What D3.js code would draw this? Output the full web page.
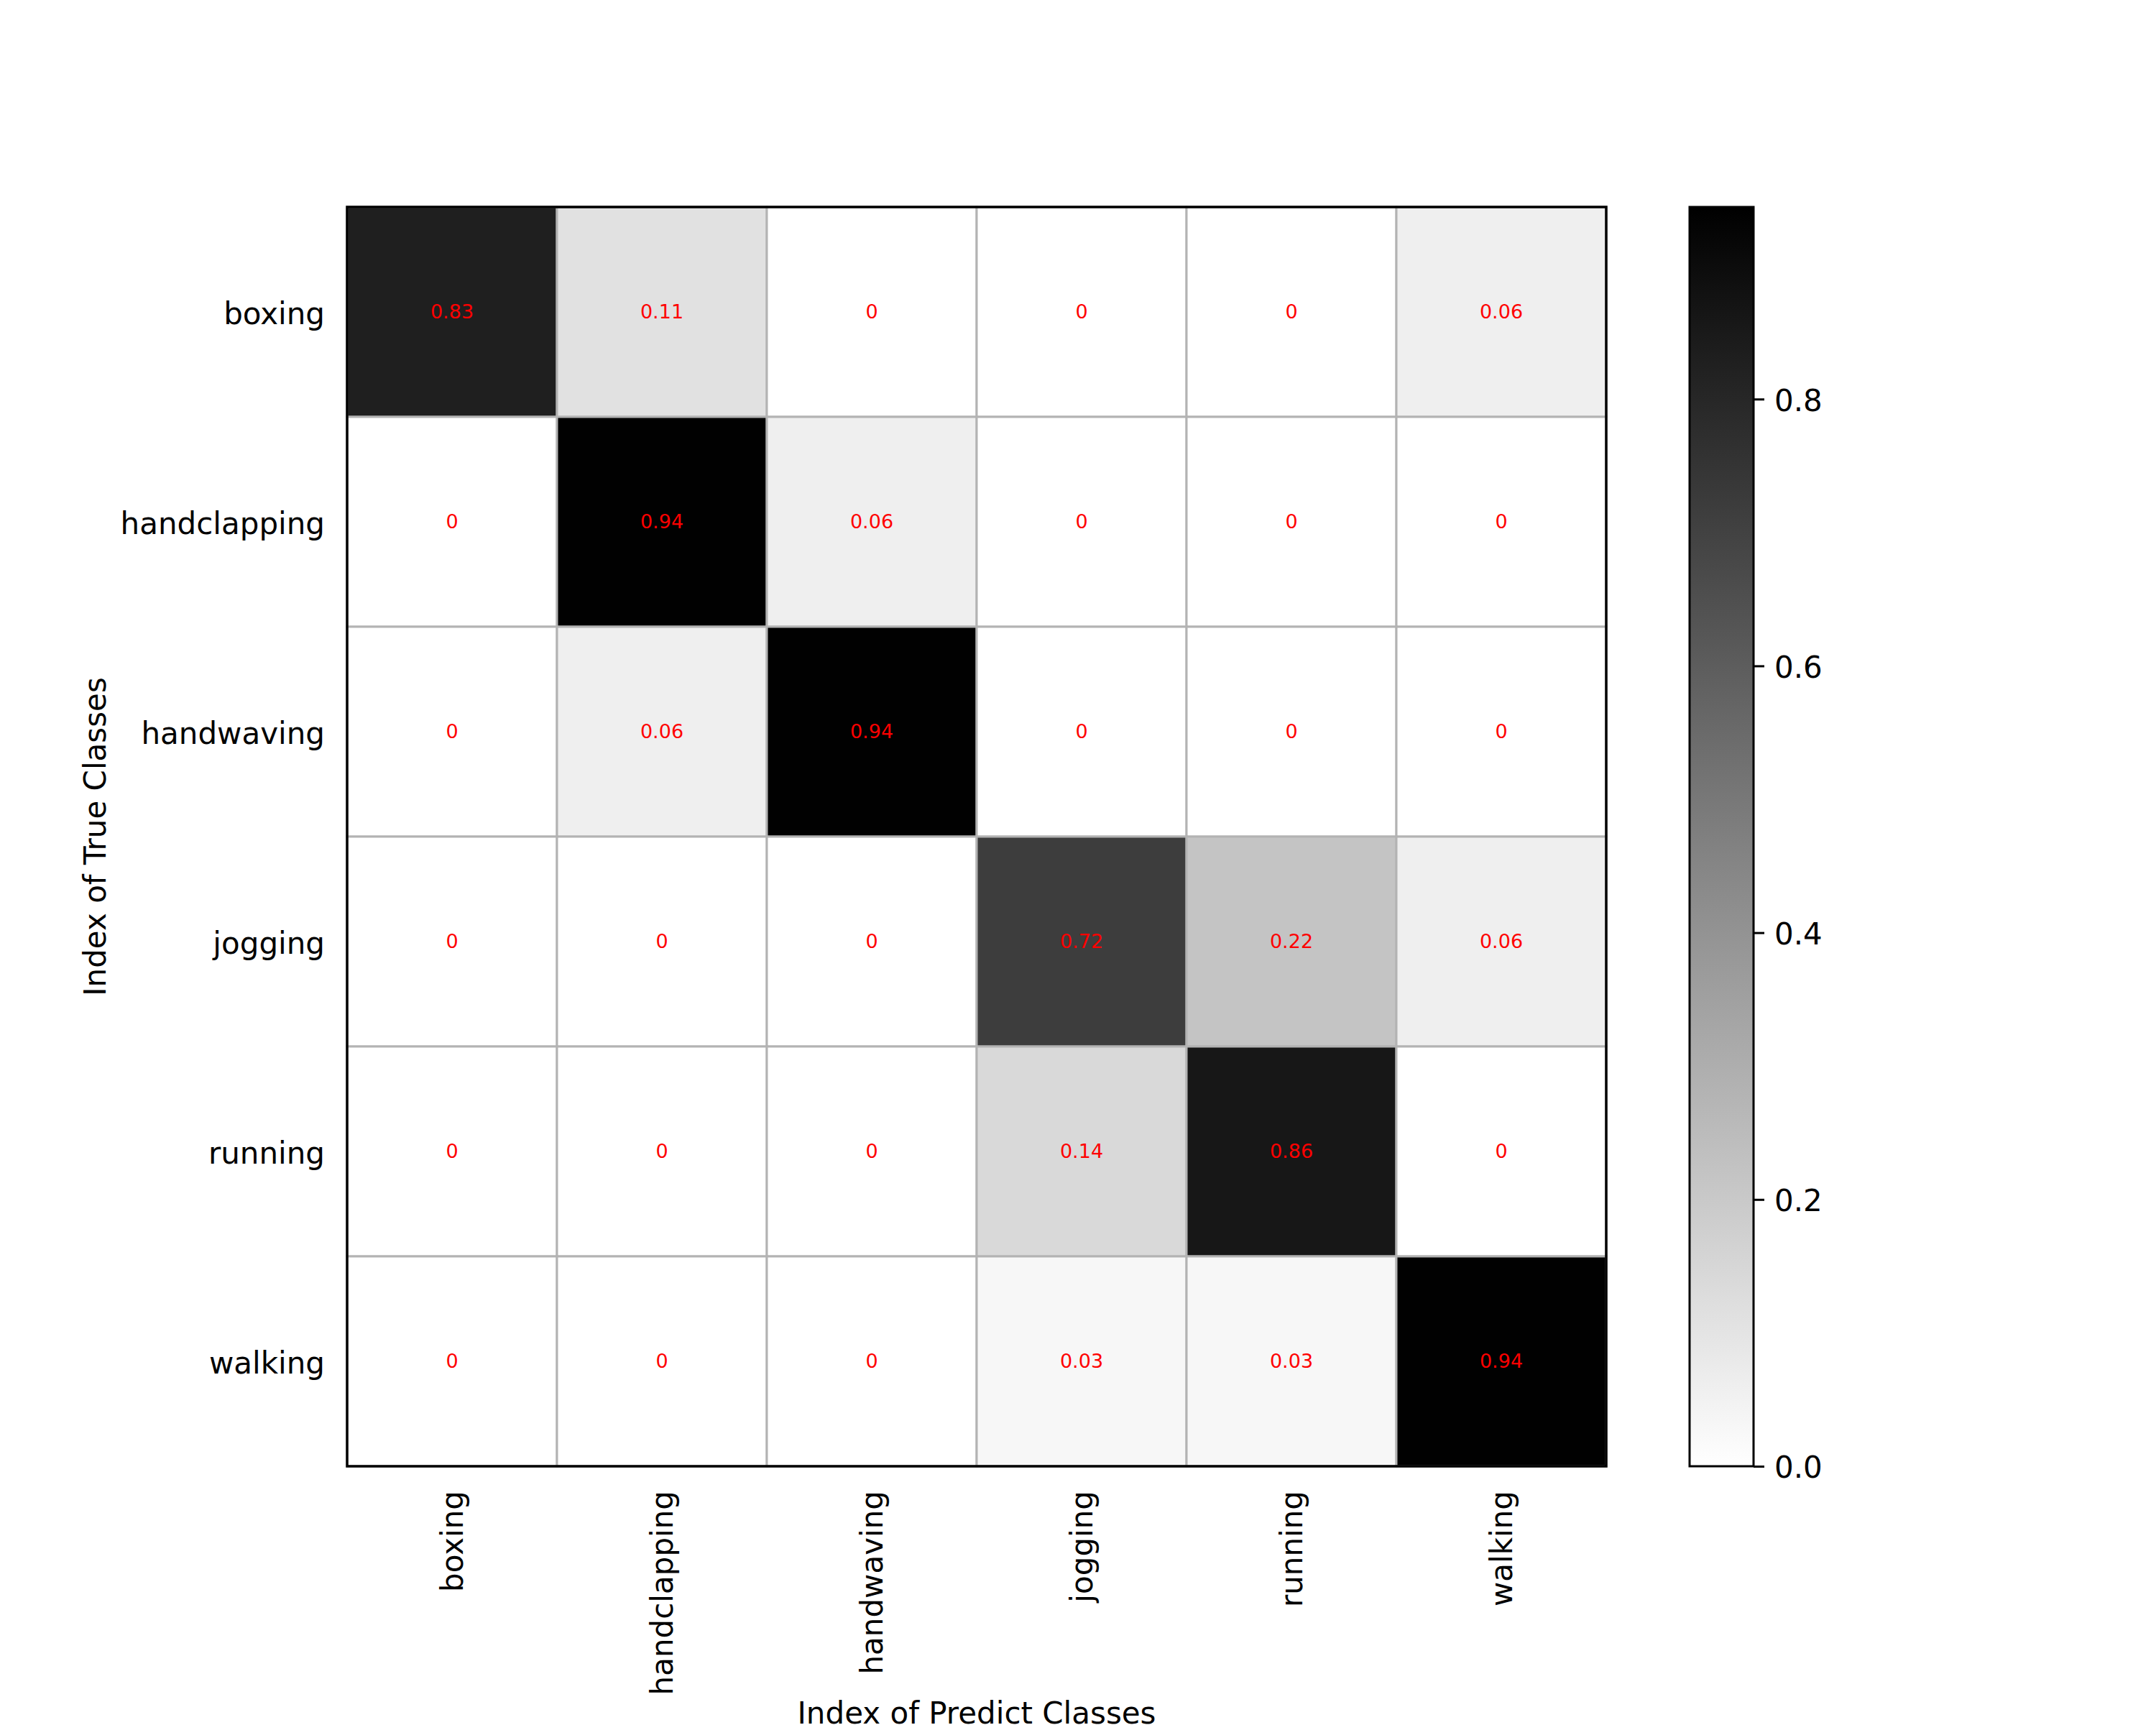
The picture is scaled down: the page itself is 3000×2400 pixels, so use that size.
<!DOCTYPE html>
<html>
<head>
<meta charset="utf-8">
<script src="https://cdn.jsdelivr.net/npm/d3@7"></script>
<style>
  body { margin: 0; background: #fff; }
  text { font-family: "DejaVu Sans", sans-serif; }
</style>
</head>
<body>
<svg id="chart" width="3000" height="2400"></svg>
<script>
// class names, rows = true class, columns = predicted class
var classes = ["boxing", "handclapping", "handwaving", "jogging", "running", "walking"];

var boxingRow       = [0.83, 0.11, 0, 0, 0, 0.06];
var handclappingRow = [0, 0.94, 0.06, 0, 0, 0];
var handwavingRow   = [0, 0.06, 0.94, 0, 0, 0];
var joggingRow      = [0, 0, 0, 0.72, 0.22, 0.06];
var runningRow      = [0, 0, 0, 0.14, 0.86, 0];
var walkingRow      = [0, 0, 0, 0.03, 0.03, 0.94];

var colorbarTicks = [0, 0.2, 0.4, 0.6, 0.8];
var colorMax = 0.944; // top of the colour bar

var rows = [boxingRow, handclappingRow, handwavingRow, joggingRow, runningRow, walkingRow];
var cells = [];
rows.forEach(function (r, i) {
    r.forEach(function (v, j) {
        cells.push({ row: classes[i], col: classes[j], value: v });
    });
});

var svg = d3.select('#chart');

var plotLeft = 483, plotRight = 2235, plotTop = 288, plotBottom = 2040;

var x = d3.scaleBand().domain(classes).range([plotLeft, plotRight]);
var y = d3.scaleBand().domain(classes).range([plotTop, plotBottom]);
var color = d3.scaleLinear().domain([0, colorMax]).range(["#ffffff", "#000000"]).clamp(true);

// cells
svg.append('g')
    .selectAll('rect')
    .data(cells)
    .enter().append('rect')
    .attr('x', d => x(d.col))
    .attr('y', d => y(d.row))
    .attr('width', x.bandwidth())
    .attr('height', y.bandwidth())
    .attr('fill', d => color(d.value))
    .attr('stroke', '#b3b3b3')
    .attr('stroke-width', 3);

// values in cells
svg.append('g')
    .selectAll('text')
    .data(cells)
    .enter().append('text')
    .attr('x', d => x(d.col) + x.bandwidth() / 2)
    .attr('y', d => y(d.row) + y.bandwidth() / 2)
    .attr('dy', '0.35em')
    .attr('text-anchor', 'middle')
    .attr('font-size', 27)
    .attr('fill', 'red')
    .text(d => d.value === 0 ? "0" : d.value.toFixed(2));

// frame
svg.append('rect')
    .attr('x', plotLeft).attr('y', plotTop)
    .attr('width', plotRight - plotLeft).attr('height', plotBottom - plotTop)
    .attr('fill', 'none')
    .attr('stroke', '#000')
    .attr('stroke-width', 3.5);

// y tick labels
svg.append('g')
    .selectAll('text')
    .data(classes)
    .enter().append('text')
    .attr('x', 452)
    .attr('y', d => y(d) + y.bandwidth() / 2 + 2)
    .attr('dy', '0.35em')
    .attr('text-anchor', 'end')
    .attr('font-size', 42)
    .text(d => d);

// x tick labels, rotated
svg.append('g')
    .selectAll('text')
    .data(classes)
    .enter().append('text')
    .attr('transform', d => 'translate(' + (x(d) + x.bandwidth() / 2) + ',2074) rotate(-90)')
    .attr('dy', '0.35em')
    .attr('text-anchor', 'end')
    .attr('font-size', 42)
    .text(d => d);

// axis titles
svg.append('text')
    .attr('transform', 'translate(147,' + ((plotTop + plotBottom) / 2) + ') rotate(-90)')
    .attr('text-anchor', 'middle')
    .attr('font-size', 42)
    .text('Index of True Classes');

svg.append('text')
    .attr('x', (plotLeft + plotRight) / 2)
    .attr('y', 2398)
    .attr('text-anchor', 'middle')
    .attr('font-size', 42)
    .text('Index of Predict Classes');

// colour bar
var cbLeft = 2351, cbRight = 2440;
var defs = svg.append('defs');
var grad = defs.append('linearGradient')
    .attr('id', 'cbGradient')
    .attr('x1', '0%').attr('y1', '100%')
    .attr('x2', '0%').attr('y2', '0%');
grad.append('stop').attr('offset', '0%').attr('stop-color', color(0));
grad.append('stop').attr('offset', '100%').attr('stop-color', color(colorMax));

var cbScale = d3.scaleLinear().domain([0, colorMax]).range([plotBottom, plotTop]);

svg.append('rect')
    .attr('x', cbLeft).attr('y', plotTop)
    .attr('width', cbRight - cbLeft).attr('height', plotBottom - plotTop)
    .attr('fill', 'url(#cbGradient)')
    .attr('stroke', '#000')
    .attr('stroke-width', 3);

var cbAxis = d3.axisRight(cbScale)
    .tickValues(colorbarTicks)
    .tickFormat(d3.format('.1f'))
    .tickSize(15)
    .tickPadding(14);

var cbG = svg.append('g')
    .attr('transform', 'translate(' + cbRight + ',0)')
    .call(cbAxis);
cbG.select('.domain').remove();
cbG.selectAll('line').attr('stroke', '#000').attr('stroke-width', 3);
cbG.selectAll('text')
    .attr('font-size', 42)
    .attr('font-family', '"DejaVu Sans", sans-serif')
    .attr('fill', '#000')
    .attr('dy', '0.38em');
</script>
</body>
</html>
